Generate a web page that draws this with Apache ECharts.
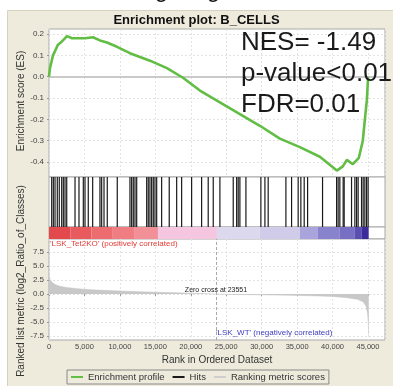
<!DOCTYPE html>
<html>
<head>
<meta charset="utf-8">
<script src="https://cdn.jsdelivr.net/npm/echarts@6.0.0/dist/echarts.min.js"></script>
<style>
html, body { margin: 0; padding: 0; background: #fff; }
#chart { width: 393px; height: 386px; }
</style>
</head>
<body>
<div id="chart"></div>
<script>
// running enrichment score (rank, ES)
var esRanks = [0, 140, 560, 850, 1270, 1830, 2540, 3240, 3950, 5080, 6200, 7190, 8180, 9590, 11420, 14240, 16640, 18900, 21290, 24110, 26930, 29750, 32570, 35390, 38210, 40610, 41450, 42020, 42860, 43710, 44270, 44560, 44840, 45020];
var esScores = [0, 0.04, 0.10, 0.12, 0.15, 0.165, 0.19, 0.18, 0.18, 0.18, 0.185, 0.17, 0.16, 0.14, 0.11, 0.075, 0.04, -0.005, -0.065, -0.12, -0.175, -0.23, -0.29, -0.33, -0.375, -0.44, -0.42, -0.39, -0.41, -0.38, -0.30, -0.2, -0.11, 0.0];

// positions of the gene set members in the ranked list
var hitRanks = [380, 610, 850, 1170, 1450, 1790, 2020, 2260, 2500, 3670, 4230, 4840, 5080, 5540, 6160, 7190, 7430, 7760, 8220, 9630,
    11420, 11660, 11890, 12130, 12370, 13780, 14000, 14240, 14480, 14710, 14950, 15190, 15890, 16960, 18010, 18710, 20120,
    21530, 22460, 23170, 24110, 25990, 26470, 26690, 26930, 27780, 29890, 30460, 30920, 33420, 34220, 35150, 35530, 36000,
    36480, 38590, 40570, 40790, 41030, 41500, 41640, 42680, 43150, 43390, 43610, 44090, 44320, 44560, 44800, 45020];

// ranked list metric (log2 ratio)
var metricRanks = [0, 140, 420, 850, 1500, 2500, 4000, 6000, 8500, 11000, 14000, 17000, 20000, 23551, 26000, 30000, 34000, 38000, 40000, 42000, 43500, 44300, 44700, 44950, 45050, 45100];
var metricValues = [3.2, 2.6, 2.1, 1.7, 1.4, 1.15, 0.95, 0.75, 0.6, 0.48, 0.36, 0.25, 0.14, 0, -0.08, -0.15, -0.23, -0.35, -0.45, -0.65, -0.95, -1.4, -2.1, -3.5, -5.5, -7.3];
var zeroCross = 23551;

// heat band segments along the ranked list
var bandEdges = [0, 3000, 6000, 9000, 12000, 15370, 23690, 29750, 35390, 37930, 41030, 43150, 44130, 45100];

var esTicks = [0.2, 0.1, 0, -0.1, -0.2, -0.3, -0.4];
var metricTicks = [7.5, 5, 2.5, 0, -2.5, -5, -7.5];

var bandShades = ['#E3494C', '#E85A5E', '#EC6C70', '#EF7D82', '#F29098', '#F4C6DF', '#DCD8EE', '#CFCBE8', '#A9A4DB', '#8982CD', '#776FC3', '#5A4EB1', '#3C2B9B'];
var font = 'Liberation Sans, Arial, sans-serif';
var green = '#62BD45';

var chart = echarts.init(document.getElementById('chart'));

var esData = esRanks.map(function (r, i) { return [r, esScores[i]]; });
var hitData = hitRanks.map(function (r) { return [r, 1]; });
var metricData = metricRanks.map(function (r, i) { return [r, metricValues[i]]; });
var bandData = [];
for (var i = 0; i < bandEdges.length - 1; i++) {
    bandData.push([bandEdges[i], bandEdges[i + 1], i]);
}

var gridBase = { left: 49, width: 336, show: true, backgroundColor: '#fff', borderColor: '#A8A8A8', borderWidth: 1 };
function grid(top, height) {
    return Object.assign({ top: top, height: height }, gridBase);
}
function xAxis(idx, showLabels) {
    return {
        type: 'value', gridIndex: idx, min: 0, max: 47400, interval: 5000,
        axisLine: { show: false },
        axisTick: { show: showLabels, length: 2, lineStyle: { color: '#999' } },
        axisLabel: {
            show: showLabels, fontSize: 7.5, color: '#444', fontFamily: font, margin: 3,
            showMaxLabel: false,
            formatter: function (v) { return v.toLocaleString('en-US'); }
        },
        splitLine: { show: idx === 0 || idx === 3, lineStyle: { color: '#E2E2E2', type: [2, 2] } }
    };
}
function gridLines(ticks) {
    return ticks.map(function (v) { return { yAxis: v }; });
}

var option = {
    animation: false,
    textStyle: { fontFamily: font },
    title: {
        text: 'Enrichment plot: B_CELLS', left: 'center', top: 9,
        textStyle: { fontSize: 13, fontWeight: 'bold', color: '#111', fontFamily: font }
    },
    legend: {
        left: 67, top: 370,
        data: [
            { name: 'Enrichment profile', icon: 'rect' },
            { name: 'Hits', icon: 'rect' },
            { name: 'Ranking metric scores', icon: 'rect' }
        ],
        itemWidth: 12, itemHeight: 2, itemGap: 8,
        padding: [2, 4],
        borderColor: '#888', borderWidth: 1,
        textStyle: { fontSize: 9.5, color: '#333', fontFamily: font }
    },
    graphic: [
        { type: 'rect', z: -1, left: 7, top: 10, shape: { width: 386, height: 376 }, style: { fill: '#EEEBDD', stroke: '#D6D2C2' } },
        { type: 'text', z: -2, x: 40, y: 2, style: { text: 'Tet2KO targets genes', font: '24px ' + font, fill: '#111', verticalAlign: 'bottom' } },
        { type: 'text', z: 10, x: 241, y: 43, style: { text: 'NES= -1.49', font: '26px ' + font, fill: '#1A1A1A', verticalAlign: 'middle' } },
        { type: 'text', z: 10, x: 241, y: 74, style: { text: 'p-value<0.01', font: '26px ' + font, fill: '#1A1A1A', verticalAlign: 'middle' } },
        { type: 'text', z: 10, x: 241, y: 105, style: { text: 'FDR=0.01', font: '26px ' + font, fill: '#1A1A1A', verticalAlign: 'middle' } },
        { type: 'text', z: 10, x: 21, y: 101, rotation: Math.PI / 2, style: { text: 'Enrichment score (ES)', font: '10px ' + font, fill: '#333', align: 'center', verticalAlign: 'middle' } },
        { type: 'text', z: 10, x: 21, y: 281, rotation: Math.PI / 2, style: { text: 'Ranked list metric (log2_Ratio_of_Classes)', font: '10px ' + font, fill: '#333', align: 'center', verticalAlign: 'middle' } },
        { type: 'text', z: 10, x: 50, y: 244, style: { text: "'LSK_Tet2KO' (positively correlated)", font: '8px ' + font, fill: '#E23B36', verticalAlign: 'middle' } },
        { type: 'text', z: 10, x: 216, y: 333, style: { text: "'LSK_WT' (negatively correlated)", font: '8px ' + font, fill: '#3D3DBE', verticalAlign: 'middle' } },
        { type: 'text', z: 10, x: 216, y: 290, style: { text: 'Zero cross at ' + zeroCross, font: '7px ' + font, fill: '#222', align: 'center', verticalAlign: 'middle' } },
        { type: 'text', z: 10, x: 217, y: 360, style: { text: 'Rank in Ordered Dataset', font: '10px ' + font, fill: '#333', align: 'center', verticalAlign: 'middle' } }
    ],
    grid: [grid(29, 148), grid(177, 50), grid(227, 12), grid(239, 101)],
    xAxis: [xAxis(0, false), xAxis(1, false), xAxis(2, false), xAxis(3, true)],
    yAxis: [
        {
            type: 'value', gridIndex: 0, min: -0.47, max: 0.2234,
            axisLine: { show: false },
            axisTick: { show: true, length: 2, customValues: esTicks, lineStyle: { color: '#999' } },
            axisLabel: { customValues: esTicks, fontSize: 8, color: '#444', margin: 5, formatter: function (v) { return v.toFixed(1); } },
            splitLine: { show: false }
        },
        { type: 'value', gridIndex: 1, min: 0, max: 1, show: false },
        { type: 'value', gridIndex: 2, min: 0, max: 1, show: false },
        {
            type: 'value', gridIndex: 3, min: -8.2, max: 9.8,
            axisLine: { show: false },
            axisTick: { show: true, length: 2, customValues: metricTicks, lineStyle: { color: '#999' } },
            axisLabel: { customValues: metricTicks, fontSize: 8, color: '#444', margin: 5, formatter: function (v) { return v.toFixed(1); } },
            splitLine: { show: false }
        }
    ],
    series: [
        {
            name: 'Enrichment profile', type: 'line', xAxisIndex: 0, yAxisIndex: 0,
            data: esData, showSymbol: false, symbol: 'rect', symbolSize: 3,
            itemStyle: { color: green },
            lineStyle: { color: green, width: 2.6 },
            z: 3,
            markLine: {
                silent: true, symbol: 'none', z: 1, label: { show: false },
                lineStyle: { color: '#E2E2E2', type: [2, 2], width: 1 },
                data: gridLines(esTicks.filter(function (v) { return v !== 0; })).concat([
                    { yAxis: 0, lineStyle: { color: '#B8B8B8', type: 'solid', width: 1.5 } }
                ])
            }
        },
        {
            name: 'Hits', type: 'bar', xAxisIndex: 1, yAxisIndex: 1,
            data: hitData, barWidth: 1.2,
            itemStyle: { color: '#1A1A1A' }
        },
        {
            type: 'custom', xAxisIndex: 2, yAxisIndex: 2,
            data: bandData,
            encode: { x: [0, 1], y: 2 },
            renderItem: function (params, api) {
                var a = api.coord([api.value(0), 1]);
                var b = api.coord([api.value(1), 0]);
                return {
                    type: 'rect',
                    shape: { x: a[0], y: a[1], width: b[0] - a[0], height: b[1] - a[1] },
                    style: { fill: bandShades[api.value(2)] }
                };
            }
        },
        {
            name: 'Ranking metric scores', type: 'line', xAxisIndex: 3, yAxisIndex: 3,
            data: metricData, showSymbol: false,
            itemStyle: { color: '#CFCFCF' },
            lineStyle: { color: '#C4C4C4', width: 0.5 },
            areaStyle: { color: '#C8C8C8', opacity: 1 },
            markLine: {
                silent: true, symbol: 'none', z: 1, label: { show: false },
                lineStyle: { color: '#E2E2E2', type: [2, 2], width: 1 },
                data: gridLines(metricTicks).concat([
                    { xAxis: zeroCross, lineStyle: { color: '#A8A8A8', type: [3, 2], width: 1 } }
                ])
            }
        }
    ]
};

chart.setOption(option);
</script>
</body>
</html>
